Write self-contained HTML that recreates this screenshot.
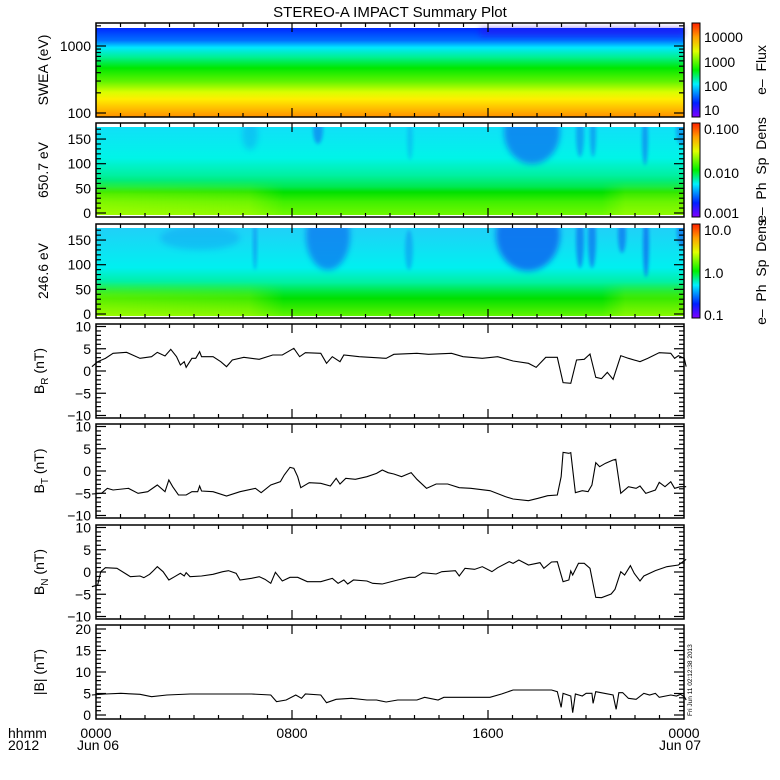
<!DOCTYPE html>
<html><head><meta charset="utf-8"><style>
html,body{margin:0;padding:0;background:#fff;}
svg{display:block;font-family:"Liberation Sans",sans-serif;}
</style></head><body>
<svg id="s" width="780" height="780" viewBox="0 0 780 780" xmlns="http://www.w3.org/2000/svg">
<defs>
<linearGradient id="g1" x1="0" y1="0" x2="0" y2="1">
<stop offset="0" stop-color="#0028ff"/><stop offset="0.14" stop-color="#0070ff"/><stop offset="0.22" stop-color="#00e8ff"/><stop offset="0.33" stop-color="#00f090"/><stop offset="0.45" stop-color="#00e800"/><stop offset="0.6" stop-color="#60f400"/><stop offset="0.72" stop-color="#d8ff00"/><stop offset="0.8" stop-color="#ffee00"/><stop offset="0.9" stop-color="#ffc000"/><stop offset="1" stop-color="#ff9000"/>
</linearGradient>
<linearGradient id="g2" x1="0" y1="0" x2="0" y2="1">
<stop offset="0" stop-color="#10e0f8"/><stop offset="0.35" stop-color="#00f4e8"/><stop offset="0.55" stop-color="#00f0a0"/><stop offset="0.68" stop-color="#00e850"/><stop offset="0.74" stop-color="#00e000"/><stop offset="0.85" stop-color="#40f000"/><stop offset="1" stop-color="#70f800"/>
</linearGradient>
<linearGradient id="g3" x1="0" y1="0" x2="0" y2="1">
<stop offset="0" stop-color="#20d0f8"/><stop offset="0.45" stop-color="#00f0f0"/><stop offset="0.62" stop-color="#00f0a0"/><stop offset="0.72" stop-color="#00e840"/><stop offset="0.8" stop-color="#00e000"/><stop offset="1" stop-color="#60f400"/>
</linearGradient>
<linearGradient id="cb" x1="0" y1="1" x2="0" y2="0">
<stop offset="0" stop-color="#8000ff"/><stop offset="0.15" stop-color="#0020ff"/><stop offset="0.35" stop-color="#00f0ff"/><stop offset="0.5" stop-color="#00f000"/><stop offset="0.7" stop-color="#e0ff00"/><stop offset="0.85" stop-color="#ffa000"/><stop offset="1" stop-color="#ff2000"/>
</linearGradient>
<linearGradient id="yel" x1="0" y1="0" x2="1" y2="0">
<stop offset="0" stop-color="#c0ff00" stop-opacity="0.6"/><stop offset="0.26" stop-color="#c0ff00" stop-opacity="0.45"/><stop offset="0.32" stop-color="#c0ff00" stop-opacity="0"/><stop offset="0.86" stop-color="#c0ff00" stop-opacity="0"/><stop offset="0.9" stop-color="#c0ff00" stop-opacity="0.4"/><stop offset="1" stop-color="#c0ff00" stop-opacity="0.4"/>
</linearGradient>
<linearGradient id="vf" x1="0" y1="0" x2="0" y2="1">
<stop offset="0" stop-color="#fff" stop-opacity="0"/><stop offset="0.4" stop-color="#fff" stop-opacity="0.7"/><stop offset="1" stop-color="#fff" stop-opacity="1"/>
</linearGradient>
<mask id="m2" maskUnits="userSpaceOnUse" x="96" y="180" width="588" height="35"><rect x="96" y="180" width="588" height="35" fill="url(#vf)"/></mask>
<mask id="m3" maskUnits="userSpaceOnUse" x="96" y="281" width="588" height="35"><rect x="96" y="281" width="588" height="35" fill="url(#vf)"/></mask>
<filter id="bl" x="-50%" y="-50%" width="200%" height="200%"><feGaussianBlur stdDeviation="3"/></filter>
<filter id="bl2" x="-50%" y="-50%" width="200%" height="200%"><feGaussianBlur stdDeviation="1.5"/></filter>
<clipPath id="c2"><rect x="96" y="127" width="588" height="88"/></clipPath>
<clipPath id="c3"><rect x="96" y="228" width="588" height="88"/></clipPath>
</defs>
<text x="390" y="17" font-size="15" text-anchor="middle">STEREO-A IMPACT Summary Plot</text>

<rect x="96" y="28" width="588" height="89" fill="url(#g1)"/>
<rect x="480" y="28" width="204" height="8" fill="#3010f0" opacity="0.5" filter="url(#bl)"/>
<rect x="96" y="127" width="588" height="88" fill="url(#g2)"/>
<rect x="96" y="180" width="588" height="35" fill="url(#yel)" mask="url(#m2)"/>
<g clip-path="url(#c2)" fill="#1080f0">
<ellipse cx="532" cy="132" rx="28" ry="32" filter="url(#bl)" opacity="0.85"/>
<ellipse cx="318" cy="130" rx="5" ry="14" filter="url(#bl2)" opacity="0.7"/>
<ellipse cx="580" cy="135" rx="4" ry="22" filter="url(#bl2)" opacity="0.6"/>
<ellipse cx="593" cy="135" rx="3" ry="22" filter="url(#bl2)" opacity="0.6"/>
<ellipse cx="645" cy="140" rx="3" ry="25" filter="url(#bl2)" opacity="0.7"/>
<ellipse cx="682" cy="130" rx="6" ry="15" filter="url(#bl2)" opacity="0.6"/>
<ellipse cx="410" cy="140" rx="3" ry="20" filter="url(#bl2)" opacity="0.3"/>
<ellipse cx="250" cy="135" rx="8" ry="15" filter="url(#bl)" opacity="0.3"/>
</g>
<rect x="96" y="228" width="588" height="88" fill="url(#g3)"/>
<rect x="96" y="281" width="588" height="35" fill="url(#yel)" mask="url(#m3)"/>
<g clip-path="url(#c3)" fill="#1070f0">
<ellipse cx="528" cy="235" rx="32" ry="36" filter="url(#bl)" opacity="0.9"/>
<ellipse cx="328" cy="236" rx="22" ry="34" filter="url(#bl)" opacity="0.7"/>
<ellipse cx="255" cy="245" rx="2" ry="25" filter="url(#bl2)" opacity="0.5"/>
<ellipse cx="409" cy="250" rx="4" ry="20" filter="url(#bl2)" opacity="0.4"/>
<ellipse cx="580" cy="240" rx="4" ry="28" filter="url(#bl2)" opacity="0.7"/>
<ellipse cx="592" cy="240" rx="4" ry="28" filter="url(#bl2)" opacity="0.7"/>
<ellipse cx="622" cy="235" rx="4" ry="18" filter="url(#bl2)" opacity="0.7"/>
<ellipse cx="646" cy="245" rx="3" ry="32" filter="url(#bl2)" opacity="0.8"/>
<ellipse cx="683" cy="232" rx="6" ry="15" filter="url(#bl2)" opacity="0.7"/>
<ellipse cx="200" cy="238" rx="40" ry="12" filter="url(#bl)" opacity="0.25"/>
</g>

<rect x="692" y="23" width="8" height="94" fill="url(#cb)" stroke="#000" stroke-width="1"/>
<rect x="692" y="123" width="8" height="94" fill="url(#cb)" stroke="#000" stroke-width="1"/>
<rect x="692" y="224" width="8" height="94" fill="url(#cb)" stroke="#000" stroke-width="1"/>
<g font-size="14">
<text x="704" y="42">10000</text><text x="704" y="67">1000</text><text x="704" y="91">100</text><text x="704" y="115">10</text>
<text x="704" y="134">0.100</text><text x="704" y="178">0.010</text><text x="704" y="218">0.001</text>
<text x="704" y="235">10.0</text><text x="704" y="278">1.0</text><text x="704" y="320">0.1</text>
<text transform="translate(766,70) rotate(-90)" text-anchor="middle">e– &#160;Flux</text>
<text transform="translate(766,170) rotate(-90)" text-anchor="middle">e– &#160;Ph &#160;Sp &#160;Dens</text>
<text transform="translate(766,272) rotate(-90)" text-anchor="middle">e– &#160;Ph &#160;Sp &#160;Dens</text>
</g>

<g id="axes" font-size="14"></g>

<g transform="translate(90,320) scale(0.384615,0.333333)" fill="none" stroke="#000" stroke-width="1.1">
<polyline vector-effect="non-scaling-stroke" points="5,140 20,125 40,115 60,100 95,97 130,115 160,110 175,97 195,108 210,88 225,110 235,135 245,125 250,142 265,115 275,115 285,95 290,110 320,110 340,125 355,140 370,120 400,112 440,118 475,105 500,105 530,85 545,110 560,98 600,100 615,130 630,110 650,125 660,105 700,110 770,115 790,103 850,100 880,103 940,100 970,110 1020,115 1060,110 1100,123 1140,130 1160,142 1185,112 1215,112 1230,188 1250,190 1265,120 1285,118 1300,102 1315,172 1330,176 1345,157 1360,178 1380,107 1400,115 1430,125 1450,115 1480,98 1510,100 1520,115 1530,107 1545,115 1550,140"/>
<polyline vector-effect="non-scaling-stroke" points="5,522 30,520 45,505 60,510 100,505 125,520 150,515 175,495 195,515 205,480 215,500 230,525 250,525 265,515 280,515 285,498 290,513 320,515 355,528 390,515 430,505 445,518 470,495 495,485 505,465 520,442 530,445 540,470 548,503 570,488 600,490 625,498 640,475 650,492 665,475 690,478 720,470 745,460 760,450 775,458 790,462 810,470 835,458 850,478 875,505 900,492 930,492 960,503 990,505 1040,512 1080,530 1100,537 1140,542 1165,535 1190,527 1215,525 1225,470 1230,397 1245,400 1250,398 1262,518 1280,512 1295,515 1305,495 1315,428 1325,440 1340,430 1360,420 1367,418 1380,520 1400,500 1420,505 1430,498 1445,520 1470,510 1480,487 1495,500 1510,485 1520,505 1535,500 1550,500"/>
</g>
<g transform="translate(90,520) scale(0.384615,0.333333)" fill="none" stroke="#000" stroke-width="1.1">
<polyline vector-effect="non-scaling-stroke" points="5,200 20,195 28,155 40,143 70,145 105,170 130,168 140,173 155,163 165,152 175,140 190,155 205,180 220,170 235,160 245,168 250,158 260,170 290,168 320,163 345,155 360,152 380,160 390,180 420,175 440,170 455,178 470,190 482,157 500,183 520,172 540,172 565,185 600,185 630,175 645,190 660,180 670,192 685,180 720,183 735,190 760,192 800,180 830,172 845,172 865,158 900,162 915,155 950,152 960,168 975,145 1000,148 1020,140 1045,155 1060,143 1090,125 1100,130 1115,120 1140,135 1170,128 1180,145 1200,126 1215,125 1230,185 1245,180 1250,153 1255,165 1270,130 1285,130 1300,145 1315,232 1330,233 1355,222 1365,208 1380,155 1390,165 1405,137 1415,160 1430,183 1440,168 1470,152 1500,140 1530,135 1550,118"/>
<polyline vector-effect="non-scaling-stroke" points="5,525 40,522 80,520 130,523 160,530 200,525 260,522 330,522 420,522 470,525 485,545 510,540 535,525 550,535 560,522 600,525 615,548 640,538 680,535 720,540 745,540 770,546 800,540 850,540 870,532 905,540 920,532 1040,532 1070,522 1100,510 1200,510 1215,515 1225,562 1230,520 1250,528 1255,578 1262,522 1280,528 1290,520 1305,520 1308,550 1315,515 1360,525 1368,568 1375,518 1385,518 1400,535 1420,538 1440,520 1455,525 1470,520 1480,532 1510,525 1525,528 1535,523 1545,530 1550,540"/>
</g>

<text transform="translate(692,716) rotate(-90)" font-size="6.5">Fri Jun 11 02:12:38 2013</text>

<g font-size="14">
<text x="8" y="738">hhmm</text><text x="8" y="750">2012</text>
<text x="96" y="738" text-anchor="middle">0000</text><text x="98" y="750" text-anchor="middle">Jun 06</text>
<text x="292" y="738" text-anchor="middle">0800</text>
<text x="488" y="738" text-anchor="middle">1600</text>
<text x="684" y="738" text-anchor="middle">0000</text><text x="680" y="750" text-anchor="middle">Jun 07</text>
</g>
</svg>
<script>
var ns="http://www.w3.org/2000/svg",g=document.getElementById("axes");
function el(t,a,txt){var e=document.createElementNS(ns,t);for(var k in a)e.setAttribute(k,a[k]);if(txt!=null)e.textContent=txt;g.appendChild(e);return e;}
function ln(x1,y1,x2,y2){el("line",{x1:x1,y1:y1,x2:x2,y2:y2,stroke:"#000","stroke-width":1.2});}
var L=96,R=684;
var tops=[23,123,224,324,424,525,625],H=94;
var labels=["SWEA (eV)","650.7 eV","246.6 eV","B_R (nT)","B_T (nT)","B_N (nT)","|B| (nT)"];
for(var i=0;i<7;i++){
 var t=tops[i],b=t+H;
 el("rect",{x:L,y:t,width:R-L,height:H,fill:"none",stroke:"#000","stroke-width":1.5});
 for(var h=1;h<24;h++){var x=L+h*24.5,len=(h%8==0)?9:4;ln(x,t,x,t+len);ln(x,b,x,b-len);}
 function yt(y,maj,lab){var len=maj?10:5;ln(L,y,L+len,y);ln(R,y,R-len,y);if(lab!=null)el("text",{x:L-5,y:y+5,"text-anchor":"end","font-size":14},lab);}
 if(i==0){var y100=113,y1000=46,d=y100-y1000;
  yt(y100,1,"100");yt(y1000,1,"1000");
  for(var v=2;v<10;v++)yt(y100-d*Math.log10(v),0);
  yt(y1000-d*Math.log10(2),0);}
 else if(i<3){var y0=t+90,s=0.493;
  for(var v=0;v<=170;v+=10){var m=v%50==0;yt(y0-v*s,m,m?String(v):null);}}
 else if(i<6){var mid=t+H/2,s=4.45;
  for(var v=-10;v<=10;v++){var m=v%5==0;yt(mid-v*s,m,m?String(v).replace("-","−"):null);}}
 else{var y0=t+90,s=4.3;
  for(var v=0;v<=20;v++){var m=v%5==0;yt(y0-v*s,m,m?String(v):null);}}
 var cx=(i<3)?48:44,cy=t+H/2;
 var tx=el("text",{transform:"translate("+cx+","+cy+") rotate(-90)","text-anchor":"middle","font-size":14});
 var lab=labels[i];
 if(lab.indexOf("_")>0){var p=lab.split("_");var sub=p[1].split(" ");
  var a=document.createElementNS(ns,"tspan");a.textContent=p[0];tx.appendChild(a);
  var c=document.createElementNS(ns,"tspan");c.setAttribute("font-size","10");c.setAttribute("dy","4");c.textContent=sub[0];tx.appendChild(c);
  var d2=document.createElementNS(ns,"tspan");d2.setAttribute("dy","-4");d2.textContent="  "+sub.slice(1).join(" ");d2.setAttribute("xml:space","preserve");tx.appendChild(d2);
 } else tx.textContent=lab;
}
</script>
</body></html>
